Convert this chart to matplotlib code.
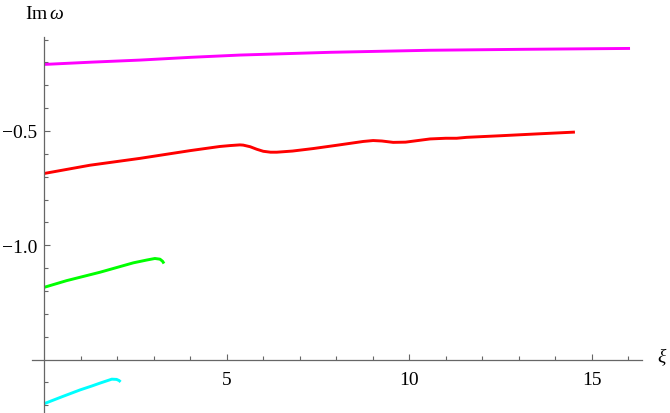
import matplotlib
matplotlib.use("Agg")
import matplotlib.pyplot as plt
from matplotlib.ticker import FixedLocator, NullFormatter

plt.rcParams['font.family'] = ['Liberation Serif', 'DejaVu Serif']
plt.rcParams['mathtext.fontset'] = 'custom'
plt.rcParams['mathtext.rm'] = 'Liberation Serif'
plt.rcParams['mathtext.it'] = 'Liberation Serif:italic'

# ---- data ----
magenta_x = [0.0, 1.3, 2.62, 4.0, 5.36, 7.83, 10.57, 13.04, 16.05]
magenta_y = [-0.209, -0.199, -0.190, -0.178, -0.168, -0.156, -0.147, -0.143, -0.139]

red_x = [0.0, 1.25, 2.62, 4.0, 4.81, 5.09, 5.36, 5.45, 5.64, 5.82, 6.0, 6.2, 6.37,
         6.8, 7.37, 8.0, 8.74, 9.01, 9.25, 9.56, 9.9, 10.57, 11.0, 11.3, 11.57,
         12.5, 13.5, 14.54]
red_y = [-0.686, -0.650, -0.620, -0.586, -0.568, -0.564, -0.561, -0.562, -0.569,
         -0.580, -0.589, -0.593, -0.593, -0.588, -0.577, -0.563, -0.546, -0.542,
         -0.544, -0.550, -0.549, -0.535, -0.532, -0.532, -0.528, -0.521, -0.513,
         -0.505]

green_x = [0.0, 0.61, 1.53, 2.44, 2.8, 3.03, 3.17, 3.24, 3.28]
green_y = [-1.184, -1.155, -1.118, -1.077, -1.065, -1.058, -1.061, -1.070, -1.080]

cyan_x = [0.0, 0.5, 0.98, 1.3, 1.53, 1.85, 1.98, 2.05, 2.09]
cyan_y = [-1.693, -1.662, -1.633, -1.616, -1.603, -1.586, -1.587, -1.592, -1.598]

xticks_major = [5, 10, 15]
xtick_labels = ["5", "10", "15"]
xticks_minor = [1, 2, 3, 4, 6, 7, 8, 9, 11, 12, 13, 14, 16]
yticks_major = [-0.5, -1.0]
ytick_labels = ["\u22120.5", "\u22121.0"]
yticks_minor = [-0.1, -0.2, -0.3, -0.4, -0.6, -0.7, -0.8, -0.9,
                -1.1, -1.2, -1.3, -1.4, -1.6, -1.7]

x_label = r'$\xi$'
y_label = r'$\mathrm{Im}\,\omega$'

# ---- figure ----
W, H = 670, 414
fig = plt.figure(figsize=(W / 100, H / 100), dpi=100)
ax = fig.add_axes([32 / W, 0, (641.7 - 32) / W, (H - 38) / H])
ax.set_xlim(-0.337, 16.37)
ax.set_ylim(-1.734, -0.089)

lw = 2.1
ax.plot(magenta_x, magenta_y, color='#ff00ff', lw=lw, solid_capstyle='butt')
ax.plot(red_x, red_y, color='#ff0000', lw=lw, solid_capstyle='butt')
ax.plot(green_x, green_y, color='#00ff00', lw=lw, solid_capstyle='butt')
ax.plot(cyan_x, cyan_y, color='#00ffff', lw=lw, solid_capstyle='butt')

axis_color = '#666666'
for s in ['top', 'right']:
    ax.spines[s].set_visible(False)
ax.spines['left'].set_position(('data', 0))
ax.spines['bottom'].set_position(('data', -1.5))
for s in ['left', 'bottom']:
    ax.spines[s].set_color(axis_color)
    ax.spines[s].set_linewidth(0.9)

ax.xaxis.set_major_locator(FixedLocator(xticks_major))
ax.xaxis.set_minor_locator(FixedLocator(xticks_minor))
ax.set_xticklabels(xtick_labels)
ax.yaxis.set_major_locator(FixedLocator(yticks_major))
ax.yaxis.set_minor_locator(FixedLocator(yticks_minor))
ax.set_yticklabels(ytick_labels)
ax.xaxis.set_minor_formatter(NullFormatter())
ax.yaxis.set_minor_formatter(NullFormatter())

ax.tick_params(which='both', direction='in', color=axis_color, width=0.8,
               labelsize=14, labelcolor='black')
ax.tick_params(which='major', length=4)
ax.tick_params(which='minor', length=2.6)
ax.tick_params(axis='x', which='major', pad=8)
ax.tick_params(axis='y', which='major', pad=5)

ax.patch.set_alpha(0)

fig.text(25 / W, 1 - 19 / H, y_label, fontsize=14, va='baseline', ha='left')
fig.text(657 / W, 1 - 362 / H, x_label, fontsize=14, va='baseline', ha='left')

fig.savefig('out.png', dpi=100)
